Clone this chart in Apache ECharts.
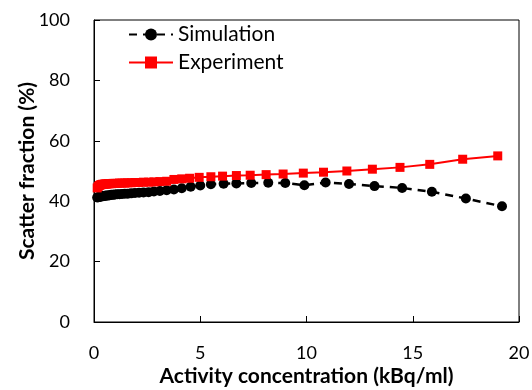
<!DOCTYPE html>
<html>
<head>
<meta charset="utf-8">
<script src="https://cdn.jsdelivr.net/npm/echarts@6/dist/echarts.min.js"></script>
<style>
  html, body { margin: 0; padding: 0; background: #fff; }
  #chart { width: 532px; height: 390px; }
</style>
</head>
<body>
<div id="chart"></div>
<script>
// activity concentration (kBq/ml) and scatter fraction (%)
const simX = [0.15, 0.2, 0.25, 0.3, 0.35, 0.4, 0.46, 0.51, 0.56, 0.61, 0.68, 0.74, 0.82, 0.9, 0.99,
  1.09, 1.2, 1.32, 1.45, 1.59, 1.75, 1.93, 2.12, 2.33, 2.57, 2.82, 3.1, 3.42, 3.76, 4.13, 4.55,
  5.0, 5.5, 6.1, 6.7, 7.4, 8.2, 9.0, 9.9, 10.9, 12.0, 13.2, 14.5, 15.9, 17.5, 19.2];
const simY = [41.2, 41.3, 41.4, 41.5, 41.6, 41.6, 41.7, 41.8, 41.8, 41.9, 41.9, 42.0, 42.1, 42.1, 42.2,
  42.3, 42.3, 42.4, 42.5, 42.5, 42.6, 42.7, 42.8, 42.9, 43.0, 43.2, 43.4, 43.6, 43.9, 44.3, 44.8,
  45.2, 45.6, 45.8, 45.9, 46.0, 46.1, 46.0, 45.3, 46.2, 45.7, 45.0, 44.4, 43.1, 40.9, 38.3];

const expX = [0.15, 0.2, 0.25, 0.3, 0.35, 0.4, 0.46, 0.51, 0.56, 0.61, 0.68, 0.74, 0.82, 0.9, 0.99,
  1.09, 1.2, 1.32, 1.45, 1.59, 1.75, 1.93, 2.12, 2.33, 2.57, 2.82, 3.1, 3.42, 3.76, 4.13, 4.5,
  4.95, 5.5, 6.05, 6.7, 7.35, 8.1, 8.9, 9.85, 10.8, 11.9, 13.1, 14.4, 15.8, 17.35, 19.0];
const expY = [44.4, 44.9, 45.2, 45.4, 45.5, 45.6, 45.6, 45.7, 45.7, 45.7, 45.8, 45.8, 45.8, 45.9, 45.9,
  45.9, 46.0, 46.0, 46.0, 46.1, 46.1, 46.2, 46.2, 46.3, 46.3, 46.4, 46.5, 46.6, 47.2, 47.4, 47.6,
  47.9, 48.1, 48.3, 48.5, 48.6, 48.8, 49.0, 49.3, 49.6, 50.0, 50.6, 51.2, 52.2, 53.9, 55.0];

const xTicks = [0, 5, 10, 15, 20];
const yTicks = [0, 20, 40, 60, 80, 100];

const font = 'Lato, "Noto Sans", sans-serif';

const chart = echarts.init(document.getElementById('chart'), null, { renderer: 'canvas' });
chart.setOption({
  animation: false,
  backgroundColor: '#fff',
  textStyle: { fontFamily: font, color: '#000' },
  grid: {
    left: 94,
    right: 13,
    top: 20,
    bottom: 68,
    outerBoundsMode: 'none',
    show: true,
    borderColor: '#000',
    borderWidth: 1,
  },
  legend: {
    orient: 'vertical',
    left: 128,
    top: 24,
    padding: 0,
    itemWidth: 44,
    itemHeight: 15,
    itemGap: 7,
    textStyle: { fontFamily: font, fontSize: 21, color: '#000' },
    data: ['Simulation', 'Experiment'],
  },
  xAxis: {
    type: 'value',
    min: xTicks[0],
    max: xTicks[xTicks.length - 1],
    interval: 5,
    name: 'Activity concentration (kBq/ml)',
    nameLocation: 'middle',
    nameGap: 44,
    nameMoveOverlap: false,
    nameTextStyle: { fontFamily: font, fontSize: 21, fontWeight: 'bold', color: '#000' },
    axisLine: { show: true, lineStyle: { color: '#000', width: 1 } },
    axisTick: { show: true, inside: true, length: 6, lineStyle: { color: '#000' } },
    axisLabel: { fontFamily: font, fontSize: 18, color: '#000', margin: 22 },
    splitLine: { show: false },
  },
  yAxis: {
    type: 'value',
    min: yTicks[0],
    max: yTicks[yTicks.length - 1],
    interval: 20,
    name: 'Scatter fraction (%)',
    nameLocation: 'middle',
    nameGap: 56,
    nameMoveOverlap: false,
    nameTextStyle: { fontFamily: font, fontSize: 21, fontWeight: 'bold', color: '#000' },
    axisLine: { show: true, lineStyle: { color: '#000', width: 1 } },
    axisTick: { show: true, inside: true, length: 6, lineStyle: { color: '#000' } },
    axisLabel: { fontFamily: font, fontSize: 18, color: '#000', margin: 24 },
    splitLine: { show: false },
  },
  series: [
    {
      name: 'Simulation',
      type: 'line',
      data: simX.map((x, i) => [x, simY[i]]),
      symbol: 'circle',
      symbolSize: 10,
      itemStyle: { color: '#000' },
      lineStyle: { color: '#000', width: 2.5, type: [8, 6] },
      z: 2,
    },
    {
      name: 'Experiment',
      type: 'line',
      data: expX.map((x, i) => [x, expY[i]]),
      symbol: 'rect',
      symbolSize: 9,
      itemStyle: { color: '#ff0000' },
      lineStyle: { color: '#ff0000', width: 2 },
      z: 3,
    },
  ],
});
</script>
</body>
</html>
